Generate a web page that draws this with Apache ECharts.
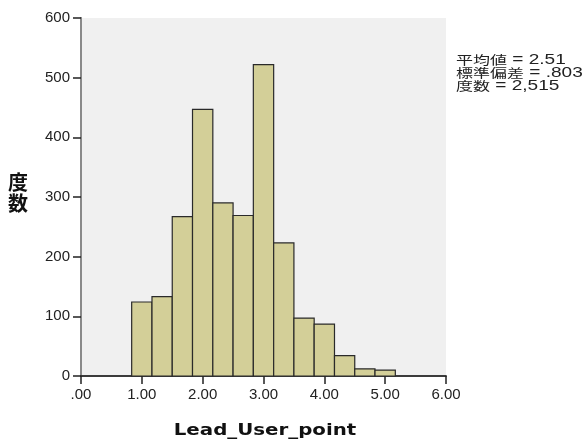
<!DOCTYPE html>
<html>
<head>
<meta charset="utf-8">
<script src="https://cdn.jsdelivr.net/npm/echarts@6/dist/echarts.min.js"></script>
<style>
  html, body { margin: 0; padding: 0; background: #ffffff; }
  #chart { width: 585px; height: 444px; }
</style>
</head>
<body>
<div id="chart"></div>
<script>
// Histogram bins: lower/upper edges and counts
const binLower = [0.833, 1.167, 1.500, 1.833, 2.167, 2.500, 2.833, 3.167, 3.500, 3.833, 4.167, 4.500, 4.833];
const binUpper = [1.167, 1.500, 1.833, 2.167, 2.500, 2.833, 3.167, 3.500, 3.833, 4.167, 4.500, 4.833, 5.167];
const counts   = [124, 133, 267, 447, 290, 269, 522, 223, 97, 87, 34, 12, 10];

const xTickLabels = ['.00', '1.00', '2.00', '3.00', '4.00', '5.00', '6.00'];
const yTickLabels = ['0', '100', '200', '300', '400', '500', '600'];
const statNames  = ['平均値', '標準偏差', '度数'];
const statValues = ['2.51', '.803', '2,515'];
const xTitle = 'Lead_User_point';
const yTitle = '度数';

const latinFont = '"Liberation Sans", Arial, sans-serif';
const cjkFont = '"Noto Sans CJK JP", sans-serif';

const chart = echarts.init(document.getElementById('chart'), null, { renderer: 'canvas' });

const binData = binLower.map((lo, i) => [lo, binUpper[i], counts[i]]);

// Summary statistics block, one text element per line
const statGraphics = statNames.map((n, i) => ({
  type: 'text', x: 456, y: 60 + i * 13, scaleX: 1.36,
  style: {
    text: '{c|' + n + '}{l| = ' + statValues[i] + '}',
    align: 'left', verticalAlign: 'middle', fill: '#222',
    rich: {
      c: { fontFamily: cjkFont, fontSize: 12.5, fill: '#222' },
      l: { fontFamily: latinFont, fontSize: 14, fill: '#222' }
    }
  }
}));

chart.setOption({
  animation: false,
  grid: {
    left: 81, right: 139, top: 18, bottom: 68,
    containLabel: false, outerBoundsMode: 'none',
    show: true, backgroundColor: '#f0f0f0', borderWidth: 0
  },
  xAxis: [{
    type: 'value', min: 0, max: 6, interval: 1,
    position: 'bottom',
    axisLine: { lineStyle: { color: '#222', width: 1.5 } },
    axisTick: { length: 8, lineStyle: { color: '#222', width: 1.5 } },
    axisLabel: {
      margin: 11, fontFamily: latinFont, fontSize: 15, color: '#222',
      formatter: (v) => xTickLabels[Math.round(v)]
    },
    splitLine: { show: false }
  }, {
    type: 'value', min: 0, max: 6, position: 'top',
    axisLine: { show: true, lineStyle: { color: '#333', width: 1.5 } },
    axisTick: { show: false }, axisLabel: { show: false }, splitLine: { show: false }
  }],
  yAxis: [{
    type: 'value', min: 0, max: 600, interval: 100,
    position: 'left',
    axisLine: { show: true, lineStyle: { color: '#222', width: 1.5 } },
    axisTick: { show: true, length: 8, lineStyle: { color: '#222', width: 1.5 } },
    axisLabel: {
      margin: 11, fontFamily: latinFont, fontSize: 15, color: '#222',
      formatter: (v) => yTickLabels[Math.round(v / 100)]
    },
    splitLine: { show: false }
  }, {
    type: 'value', min: 0, max: 600, position: 'right',
    axisLine: { show: true, lineStyle: { color: '#8a8a8a', width: 2 } },
    axisTick: { show: false }, axisLabel: { show: false }, splitLine: { show: false }
  }],
  series: [{
    type: 'custom',
    xAxisIndex: 0, yAxisIndex: 0,
    data: binData,
    encode: { x: [0, 1], y: 2 },
    renderItem: function (params, api) {
      const p0 = api.coord([api.value(0), api.value(2)]);
      const p1 = api.coord([api.value(1), 0]);
      return {
        type: 'rect',
        shape: { x: p0[0], y: p0[1], width: p1[0] - p0[0], height: p1[1] - p0[1] },
        style: { fill: '#d3cf98', stroke: '#2a2a2a', lineWidth: 1.2 }
      };
    }
  }],
  graphic: [{
    type: 'text', left: 8, top: 172,
    style: {
      text: yTitle.split('').join('\n'), fontFamily: cjkFont,
      fontWeight: 'bold', fontSize: 20, lineHeight: 21, fill: '#111'
    }
  }, {
    type: 'text', x: 265, y: 431, scaleX: 1.2,
    style: {
      text: xTitle, fontFamily: '"DejaVu Sans", sans-serif', fontWeight: 'bold',
      fontSize: 16.5, fill: '#111', align: 'center', verticalAlign: 'middle'
    }
  }].concat(statGraphics)
});
</script>
</body>
</html>
